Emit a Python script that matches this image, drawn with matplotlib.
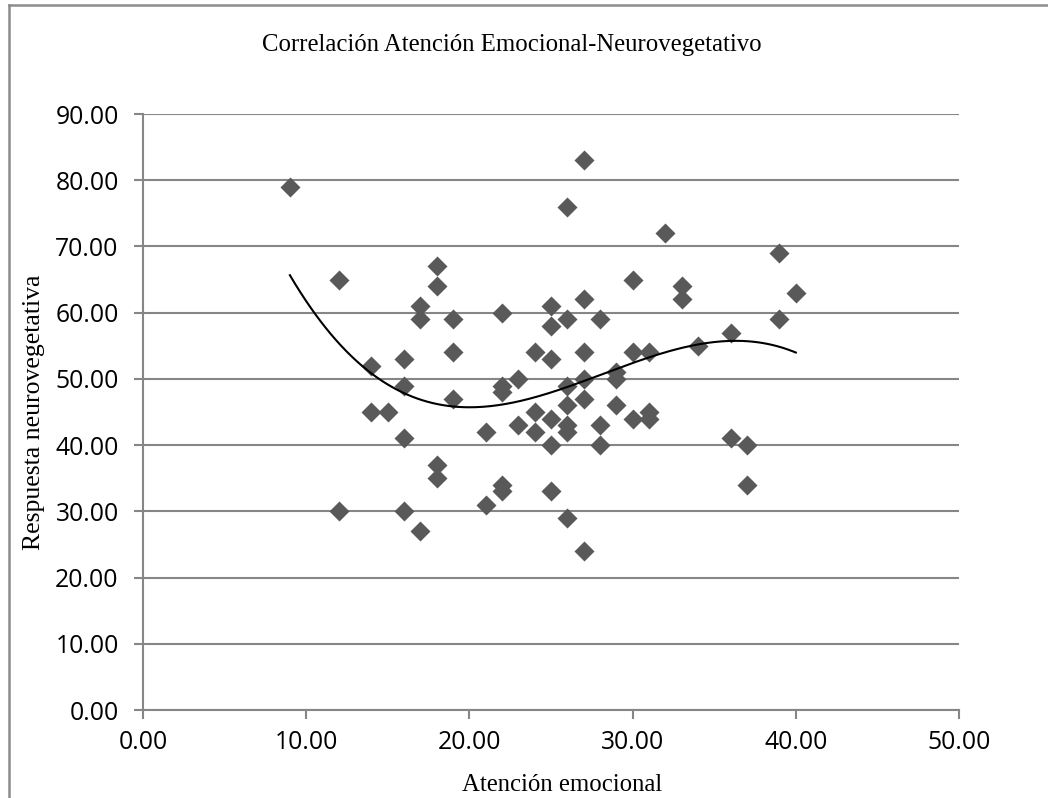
import numpy as np
import matplotlib
matplotlib.use("Agg")
import matplotlib.pyplot as plt
from matplotlib.lines import Line2D

# scores (x = atención emocional, y = respuesta neurovegetativa)
atencion = [9,
            12, 12,
            14, 14,
            15,
            16, 16, 16, 16,
            17, 17, 17,
            18, 18, 18, 18,
            19, 19, 19,
            21, 21,
            22, 22, 22, 22, 22,
            23, 23,
            24, 24, 24,
            25, 25, 25, 25, 25, 25,
            26, 26, 26, 26, 26, 26, 26,
            27, 27, 27, 27, 27, 27,
            28, 28, 28,
            29, 29, 29,
            30, 30, 30,
            31, 31, 31,
            32,
            33, 33,
            34,
            36, 36,
            37, 37,
            39, 39,
            40]
respuesta = [79,
             65, 30,
             52, 45,
             45,
             53, 49, 41, 30,
             61, 59, 27,
             67, 64, 37, 35,
             59, 54, 47,
             42, 31,
             60, 49, 48, 34, 33,
             50, 43,
             54, 45, 42,
             61, 58, 53, 44, 40, 33,
             76, 59, 49, 46, 43, 42, 29,
             83, 62, 54, 50, 47, 24,
             59, 43, 40,
             51, 50, 46,
             65, 54, 44,
             54, 45, 44,
             72,
             64, 62,
             55,
             57, 41,
             40, 34,
             69, 59,
             63]

x_ticks = [0, 10, 20, 30, 40, 50]
y_ticks = [0, 10, 20, 30, 40, 50, 60, 70, 80, 90]

titulo = "Correlación Atención Emocional-Neurovegetativo"
x_label = "Atención emocional"
y_label = "Respuesta neurovegetativa"

grey = "#868686"
serif = "Liberation Serif"
sans = "Open Sans"

fig = plt.figure(figsize=(10.48, 7.98), dpi=100)
ax = fig.add_axes([143 / 1048, 88 / 798, 816 / 1048, 596 / 798])

x = np.array(atencion, dtype=float)
y = np.array(respuesta, dtype=float)

ax.scatter(x, y, marker="D", s=10.2 ** 2, color="#595959", linewidths=0, zorder=3)

# third order polynomial trend line, as in the spreadsheet
coef = np.polyfit(x, y, 3)
xs = np.linspace(x.min(), x.max(), 200)
ax.plot(xs, np.polyval(coef, xs), color="black", lw=1.5, zorder=4)

ax.set_xlim(0, 50)
ax.set_ylim(0, 90)
ax.set_xticks(x_ticks)
ax.set_yticks(y_ticks)
ax.set_xticklabels(["%.2f" % v for v in x_ticks], fontfamily=sans, fontsize=17.8)
ax.set_yticklabels(["%.2f" % v for v in y_ticks], fontfamily=sans, fontsize=17.8)
ax.yaxis.grid(True, color=grey, lw=1.5)
ax.set_axisbelow(True)

for side in ["top", "right"]:
    ax.spines[side].set_visible(False)
for side in ["left", "bottom"]:
    ax.spines[side].set_color(grey)
    ax.spines[side].set_linewidth(1.5)
ax.tick_params(axis="both", direction="out", length=6.5, width=1.5, color=grey)
ax.tick_params(axis="x", pad=8)
ax.tick_params(axis="y", pad=11)

fig.text(512 / 1048, 1 - 45 / 798, titulo, ha="center", va="center",
         fontfamily=serif, fontsize=17.8)
fig.text(562 / 1048, 1 - 785 / 798, x_label, ha="center", va="center",
         fontfamily=serif, fontsize=17.8)
fig.text(34 / 1048, 1 - 412 / 798, y_label, ha="center", va="center",
         rotation=90, fontfamily=serif, fontsize=18.5)

# chart area border (only top and left edges are visible in the crop)
fig.add_artist(Line2D([9 / 1048, 9 / 1048], [0, 1 - 5 / 798],
                      transform=fig.transFigure, color="#8c8c8c", lw=1.8))
fig.add_artist(Line2D([9 / 1048, 1], [1 - 5 / 798, 1 - 5 / 798],
                      transform=fig.transFigure, color="#8c8c8c", lw=1.8))

fig.savefig("out.png", dpi=100, facecolor="white")
